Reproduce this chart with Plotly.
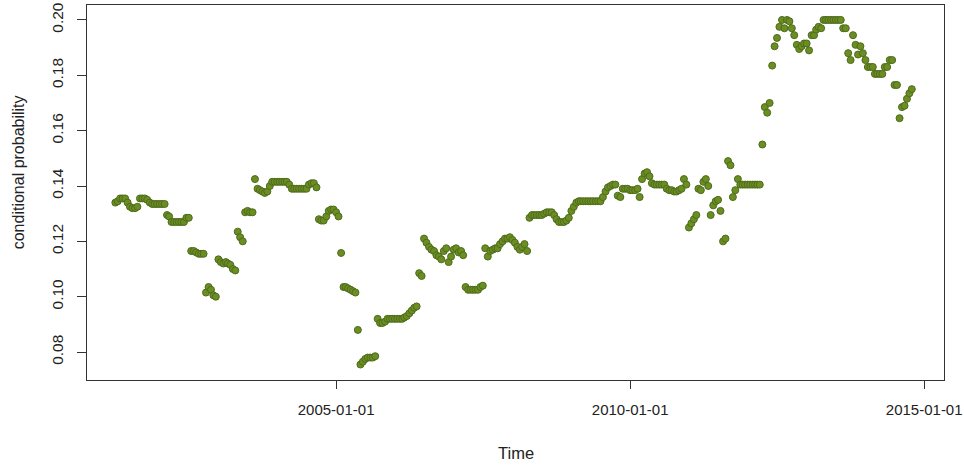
import pandas as pd
import plotly.graph_objects as go

# semi-monthly observations (1st and 16th of each month), April 2001 - October 2014
prob_2001 = [0.134, 0.1345, 0.1355, 0.1355, 0.1355, 0.134, 0.1325, 0.132, 0.132, 0.1325,
             0.1355, 0.1355, 0.1355, 0.135, 0.134, 0.1335, 0.1335, 0.1335]
prob_2002 = [0.1335, 0.1335, 0.1335, 0.1295, 0.129, 0.127, 0.127, 0.127, 0.127, 0.127,
             0.127, 0.1285, 0.1285, 0.1165, 0.1165, 0.116, 0.1155, 0.1155, 0.1155, 0.1015,
             0.1035, 0.1025, 0.1005, 0.100]
prob_2003 = [0.1135, 0.1125, 0.112, 0.1125, 0.112, 0.1115, 0.110, 0.1095, 0.1235, 0.1215,
             0.120, 0.1305, 0.131, 0.1305, 0.1305, 0.1425, 0.139, 0.1385, 0.138, 0.1375,
             0.138, 0.140, 0.1415, 0.1415]
prob_2004 = [0.1415, 0.1415, 0.1415, 0.1415, 0.1415, 0.1405, 0.139, 0.139, 0.139, 0.139,
             0.139, 0.139, 0.139, 0.1405, 0.141, 0.141, 0.1395, 0.128, 0.1275, 0.1275,
             0.129, 0.131, 0.1315, 0.1315]
prob_2005 = [0.1305, 0.129, 0.1158, 0.1035, 0.1035, 0.103, 0.1025, 0.102, 0.1015, 0.088,
             0.0755, 0.0765, 0.0775, 0.078, 0.078, 0.078, 0.0785, 0.092, 0.0905, 0.0905,
             0.091, 0.092, 0.092, 0.092]
prob_2006 = [0.092, 0.092, 0.092, 0.092, 0.0925, 0.093, 0.094, 0.095, 0.096, 0.0965,
             0.1085, 0.1075, 0.121, 0.1195, 0.118, 0.117, 0.1165, 0.115, 0.1145, 0.1135,
             0.1165, 0.1175, 0.1125, 0.1145]
prob_2007 = [0.117, 0.1175, 0.116, 0.1165, 0.115, 0.1035, 0.1025, 0.1025, 0.1025, 0.1025,
             0.1025, 0.1035, 0.104, 0.1175, 0.1145, 0.1165, 0.117, 0.1175, 0.1175, 0.119,
             0.120, 0.121, 0.121, 0.1215]
prob_2008 = [0.1205, 0.1195, 0.118, 0.117, 0.118, 0.119, 0.1165, 0.1285, 0.1295, 0.1295,
             0.1295, 0.1295, 0.1295, 0.130, 0.1305, 0.1305, 0.1305, 0.1295, 0.128, 0.127,
             0.127, 0.127, 0.1275, 0.1285]
prob_2009 = [0.131, 0.1325, 0.134, 0.1345, 0.1345, 0.1345, 0.1345, 0.1345, 0.1345, 0.1345,
             0.1345, 0.1345, 0.1345, 0.136, 0.138, 0.1395, 0.140, 0.1405, 0.1405, 0.1365,
             0.136, 0.139, 0.139, 0.139]
prob_2010 = [0.1385, 0.1385, 0.1385, 0.139, 0.136, 0.1425, 0.1445, 0.145, 0.1435, 0.141,
             0.1405, 0.1405, 0.1405, 0.1405, 0.1405, 0.139, 0.1385, 0.1385, 0.138, 0.138,
             0.1385, 0.139, 0.1425, 0.1405]
prob_2011 = [0.125, 0.1265, 0.128, 0.1295, 0.139, 0.1385, 0.1415, 0.1425, 0.140, 0.1295,
             0.133, 0.1345, 0.135, 0.131, 0.120, 0.121, 0.149, 0.1475, 0.136, 0.1385,
             0.1425, 0.1405, 0.1405, 0.1405]
prob_2012 = [0.1405, 0.1405, 0.1405, 0.1405, 0.1405, 0.1405, 0.155, 0.1685, 0.1665, 0.170,
             0.1835, 0.1905, 0.1935, 0.1975, 0.200, 0.197, 0.200, 0.1995, 0.197, 0.1945,
             0.191, 0.1895, 0.1905, 0.1915]
prob_2013 = [0.1915, 0.189, 0.1945, 0.1945, 0.1965, 0.1975, 0.197, 0.200, 0.200, 0.200,
             0.200, 0.200, 0.200, 0.200, 0.200, 0.197, 0.197, 0.188, 0.1855, 0.1945,
             0.191, 0.1875, 0.1905, 0.188]
prob_2014 = [0.1855, 0.183, 0.183, 0.183, 0.1805, 0.1805, 0.1805, 0.1805, 0.183, 0.183,
             0.1855, 0.1855, 0.1765, 0.1765, 0.1645, 0.1685, 0.169, 0.1715, 0.1735, 0.175]

cond_prob = (prob_2001 + prob_2002 + prob_2003 + prob_2004 + prob_2005 + prob_2006 +
             prob_2007 + prob_2008 + prob_2009 + prob_2010 + prob_2011 + prob_2012 +
             prob_2013 + prob_2014)

obs_days = [1, 16]
months = pd.date_range("2001-04-01", "2014-10-01", freq="MS")
dates = [m + pd.Timedelta(days=d - 1) for m in months for d in obs_days][:len(cond_prob)]

x_tick_vals = ["2005-01-01", "2010-01-01", "2015-01-01"]
x_tick_text = ["2005-01-01", "2010-01-01", "2015-01-01"]
y_tick_vals = [0.08, 0.10, 0.12, 0.14, 0.16, 0.18, 0.20]
y_tick_text = ["0.08", "0.10", "0.12", "0.14", "0.16", "0.18", "0.20"]

fig = go.Figure()
fig.add_trace(go.Scatter(
    x=dates, y=cond_prob, mode="markers",
    marker=dict(size=7, color="#6b8e23", line=dict(color="#4f6b1c", width=1)),
    showlegend=False, hoverinfo="x+y",
))

font = "Liberation Sans, Arial, sans-serif"
fig.update_layout(
    width=964, height=465,
    margin=dict(l=87, r=20, t=5, b=85, autoexpand=False),
    paper_bgcolor="white", plot_bgcolor="white",
    font=dict(family=font, color="#000000"),
    xaxis=dict(
        range=["2000-10-07", "2015-05-04"], automargin=False,
        tickvals=x_tick_vals, ticktext=x_tick_text,
        ticks="outside", ticklen=8, tickcolor="#333333", tickwidth=1,
        showline=True, linecolor="#333333", linewidth=1, mirror=True,
        showgrid=False, zeroline=False, ticklabeloverflow="allow",
        ticklabelstandoff=8,
        tickfont=dict(size=15, family=font, color="#222222"),
    ),
    yaxis=dict(
        range=[0.0699, 0.2054], automargin=False,
        tickvals=y_tick_vals, ticktext=y_tick_text,
        ticks="outside", ticklen=9, tickcolor="#333333", tickwidth=1,
        showline=True, linecolor="#333333", linewidth=1, mirror=True,
        showgrid=False, zeroline=False, tickangle=-90,
        ticklabelstandoff=8,
        tickfont=dict(size=15.5, family=font, color="#222222"),
    ),
    annotations=[
        dict(text="Time", xref="paper", yref="paper", x=0.5, y=-0.195,
             xanchor="center", yanchor="middle", showarrow=False,
             font=dict(size=16.5, family=font, color="#222222")),
        dict(text="conditional probability", xref="paper", yref="paper",
             x=-0.08, y=0.555, xanchor="center", yanchor="middle",
             textangle=-90, showarrow=False,
             font=dict(size=16, family=font, color="#222222")),
    ],
)

fig.write_html("out.html")
